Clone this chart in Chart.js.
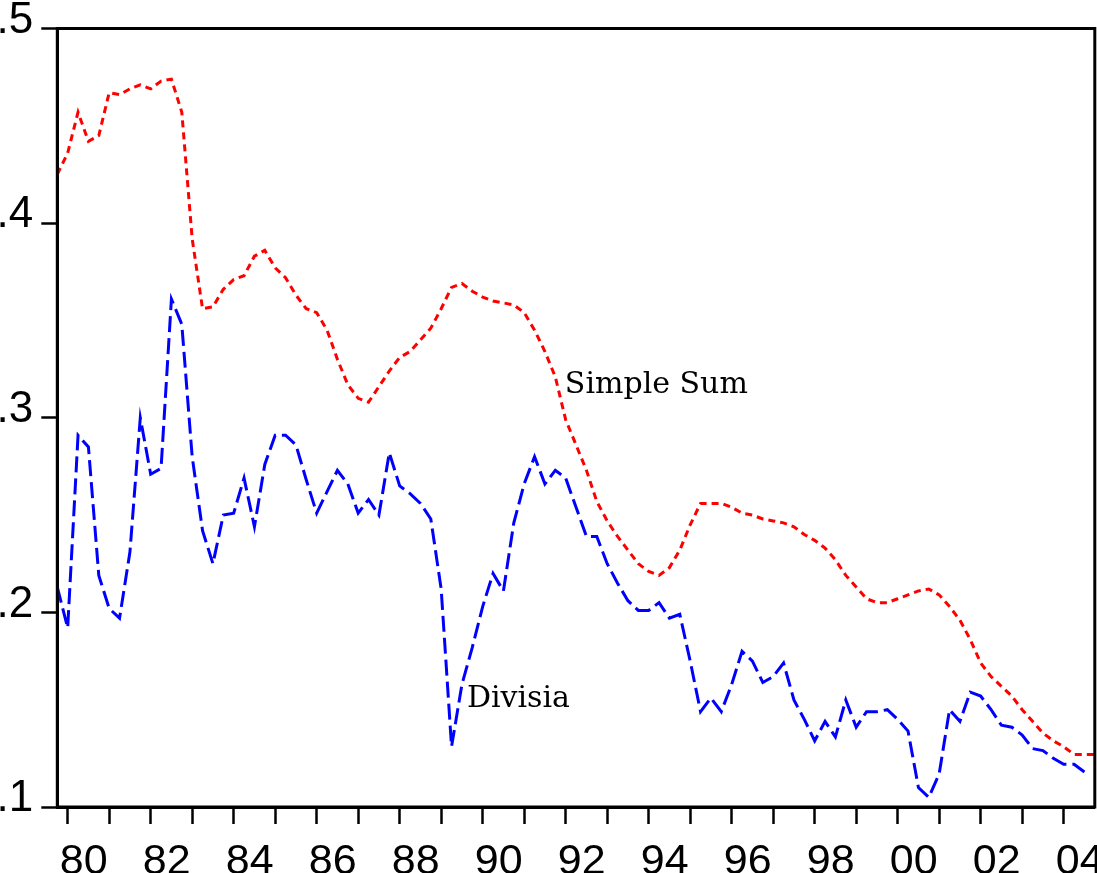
<!DOCTYPE html>
<html>
<head>
<meta charset="utf-8">
<script src="https://cdn.jsdelivr.net/npm/chart.js@4.4.1/dist/chart.umd.min.js"></script>
<style>
  html, body { margin: 0; padding: 0; background: #ffffff; }
  #wrap { width: 1097px; height: 873px; position: relative; }
</style>
</head>
<body>
<div id="wrap"><canvas id="c" width="1097" height="873"></canvas></div>
<script>
// Quarterly observations, 1979Q4 .. 2004Q4
const startYear = 1979.75;
const simpleSum = [
  0.425, 0.436, 0.457, 0.442, 0.445, 0.467, 0.466, 0.469, 0.471, 0.469,
  0.473, 0.474, 0.457, 0.392, 0.356, 0.357, 0.366, 0.371, 0.373, 0.383,
  0.386, 0.377, 0.372, 0.363, 0.356, 0.354, 0.345, 0.330, 0.317, 0.310,
  0.308, 0.316, 0.324, 0.331, 0.334, 0.340, 0.346, 0.356, 0.367, 0.369,
  0.365, 0.362, 0.360, 0.359, 0.358, 0.354, 0.345, 0.334, 0.321, 0.299,
  0.286, 0.273, 0.257, 0.247, 0.239, 0.232, 0.225, 0.221, 0.219, 0.223,
  0.232, 0.245, 0.256, 0.256, 0.256, 0.254, 0.251, 0.250, 0.248, 0.247,
  0.246, 0.244, 0.240, 0.237, 0.233, 0.227, 0.219, 0.213, 0.207, 0.205,
  0.205, 0.207, 0.209, 0.211, 0.212, 0.209, 0.203, 0.196, 0.186, 0.174,
  0.167, 0.162, 0.157, 0.150, 0.144, 0.138, 0.134, 0.131, 0.127, 0.127,
  0.127
];
const divisia = [
  0.213, 0.192, 0.291, 0.285, 0.219, 0.202, 0.197, 0.231, 0.300, 0.271,
  0.274, 0.361, 0.348, 0.280, 0.242, 0.225, 0.250, 0.251, 0.269, 0.244,
  0.276, 0.291, 0.291, 0.286, 0.268, 0.251, 0.262, 0.273, 0.266, 0.251,
  0.258, 0.250, 0.282, 0.265, 0.261, 0.256, 0.248, 0.212, 0.131, 0.163,
  0.182, 0.203, 0.220, 0.211, 0.246, 0.266, 0.280, 0.266, 0.273, 0.269,
  0.254, 0.239, 0.239, 0.225, 0.215, 0.206, 0.201, 0.201, 0.205, 0.197,
  0.199, 0.175, 0.149, 0.156, 0.149, 0.163, 0.180, 0.175, 0.164, 0.167,
  0.174, 0.155, 0.145, 0.134, 0.144, 0.136, 0.155, 0.141, 0.149, 0.149,
  0.150, 0.145, 0.139, 0.110, 0.105, 0.117, 0.150, 0.144, 0.159, 0.157,
  0.150, 0.142, 0.141, 0.137, 0.130, 0.129, 0.125, 0.122, 0.122, 0.118,
  null
];
const yearTicks = [1980,1981,1982,1983,1984,1985,1986,1987,1988,1989,1990,1991,1992,
                   1993,1994,1995,1996,1997,1998,1999,2000,2001,2002,2003,2004];
const xTickLabels = ['80','','82','','84','','86','','88','','90','','92',
                     '','94','','96','','98','','00','','02','','04'];
const yTickValues = [0.1, 0.2, 0.3, 0.4, 0.5];
const yTickLabels = ['.1', '.2', '.3', '.4', '.5'];
const seriesNames = ['Simple Sum', 'Divisia'];

const toPoints = arr => arr.map((v, i) => ({ x: startYear + i / 4, y: v }));

const frame = {
  id: 'frame',
  afterDraw(chart) {
    const { ctx, chartArea: a, scales } = chart;
    ctx.save();
    ctx.strokeStyle = '#000';
    ctx.lineWidth = 3;
    ctx.strokeRect(a.left, a.top, a.right - a.left, a.bottom - a.top);
    // series name annotations
    ctx.fillStyle = '#000';
    ctx.font = '30px "DejaVu Serif", serif';
    ctx.textBaseline = 'alphabetic';
    ctx.textAlign = 'left';
    const xs = scales.x, ys = scales.y;
    ctx.fillText(seriesNames[0], xs.getPixelForValue(1991.98), ys.getPixelForValue(0.3125));
    ctx.fillText(seriesNames[1], xs.getPixelForValue(1989.62), ys.getPixelForValue(0.1514));
    ctx.restore();
  }
};

new Chart(document.getElementById('c'), {
  type: 'line',
  data: {
    datasets: [
      {
        label: seriesNames[0],
        data: toPoints(simpleSum),
        borderColor: '#ff0000',
        borderWidth: 3,
        borderDash: [7, 5],
        pointRadius: 0,
        tension: 0,
        fill: false
      },
      {
        label: seriesNames[1],
        data: toPoints(divisia),
        borderColor: '#0000ff',
        borderWidth: 3,
        borderDash: [16, 6],
        pointRadius: 0,
        tension: 0,
        fill: false,
        spanGaps: false
      }
    ]
  },
  options: {
    responsive: false,
    animation: false,
    devicePixelRatio: 1,
    layout: { padding: { top: 28.5, right: 2.2, left: 0, bottom: 0 } },
    plugins: { legend: { display: false }, tooltip: { enabled: false } },
    scales: {
      x: {
        type: 'linear',
        min: startYear,
        max: startYear + (simpleSum.length - 1) / 4,
        afterBuildTicks: s => { s.ticks = yearTicks.map(v => ({ value: v })); },
        afterFit: s => { s.height = 66; s.paddingLeft = 0; s.paddingRight = 0; },
        ticks: {
          autoSkip: false,
          maxRotation: 0,
          minRotation: 0,
          color: '#000',
          padding: 12,
          labelOffset: 16,
          font: { family: '"Liberation Sans", Arial, sans-serif', size: 43 },
          callback: (v, i) => xTickLabels[i]
        },
        grid: {
          drawOnChartArea: false,
          drawTicks: true,
          tickLength: 17,
          tickWidth: 2.5,
          tickColor: '#000'
        },
        border: { display: true, color: '#000', width: 3 }
      },
      y: {
        type: 'linear',
        min: 0.1,
        max: 0.5,
        afterBuildTicks: s => { s.ticks = yTickValues.map(v => ({ value: v })); },
        afterFit: s => { s.width = 57.3; s.paddingTop = 0; s.paddingBottom = 0; },
        ticks: {
          color: '#000',
          padding: 8,
          labelOffset: -8,
          font: { family: '"Liberation Sans", Arial, sans-serif', size: 44 },
          callback: (v, i) => yTickLabels[i]
        },
        grid: {
          drawOnChartArea: false,
          drawTicks: true,
          tickLength: 16,
          tickWidth: 2.5,
          tickColor: '#000'
        },
        border: { display: true, color: '#000', width: 3 }
      }
    }
  },
  plugins: [frame]
});
</script>
</body>
</html>
